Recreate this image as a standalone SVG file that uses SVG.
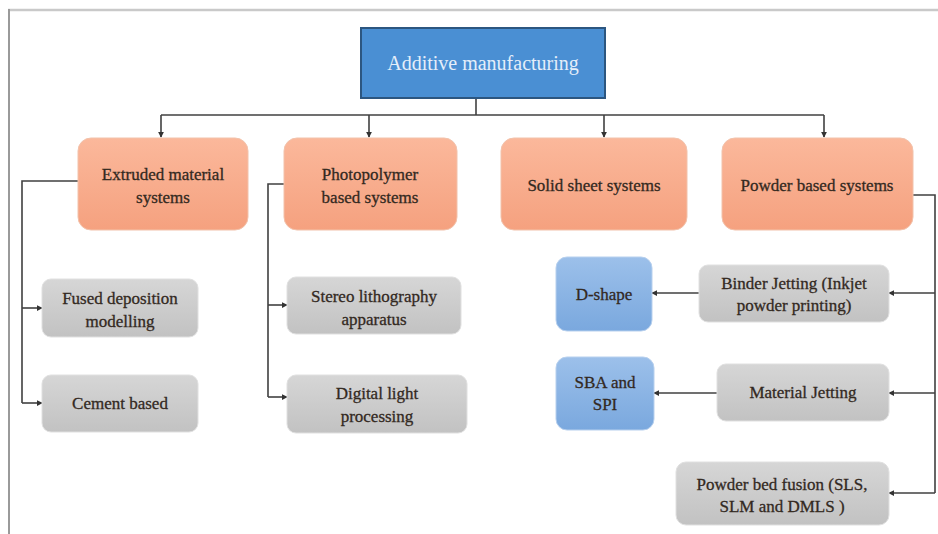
<svg xmlns="http://www.w3.org/2000/svg" width="938" height="534" viewBox="0 0 938 534">
  <defs>
    <linearGradient id="gOrange" x1="0" y1="0" x2="0" y2="1">
      <stop offset="0" stop-color="#fbb89b"/>
      <stop offset="1" stop-color="#f5a17f"/>
    </linearGradient>
    <linearGradient id="gGray" x1="0" y1="0" x2="0" y2="1">
      <stop offset="0" stop-color="#d6d6d6"/>
      <stop offset="1" stop-color="#c2c2c2"/>
    </linearGradient>
    <linearGradient id="gBlue" x1="0" y1="0" x2="0" y2="1">
      <stop offset="0" stop-color="#9cc0ea"/>
      <stop offset="1" stop-color="#7aa8de"/>
    </linearGradient>
    <marker id="arrow" viewBox="0 0 8 8" refX="7" refY="4" markerWidth="6" markerHeight="6" markerUnits="userSpaceOnUse" orient="auto">
      <path d="M0,0 L8,4 L0,8 z" fill="#333"/>
    </marker>
    <style>
      .frameTop { stroke: #c9c9c9; stroke-width: 2.5; fill: none; }
      .frameLeft { stroke: #9a9a9a; stroke-width: 2; fill: none; }
      .orange { fill: url(#gOrange); stroke: #f2c2ab; stroke-width: 1; }
      .gray { fill: url(#gGray); stroke: #e0e0e0; stroke-width: 1; }
      .blue { fill: url(#gBlue); stroke: #b7d0ee; stroke-width: 1; }
      .root { fill: #4a8fd3; stroke: #2c5680; stroke-width: 2; }
      .label { font-family: "Liberation Serif", "Times New Roman", serif; font-size: 17px; fill: #33291f; stroke: #33291f; stroke-width: 0.3; text-anchor: middle; }
      .rootLabel { font-family: "Liberation Serif", "Times New Roman", serif; font-size: 20px; fill: #e4eefa; text-anchor: middle; }
      .wire { stroke: #404040; stroke-width: 1.6; fill: none; }
      .arrowed { marker-end: url(#arrow); }
    </style>
  </defs>

  <rect width="938" height="534" fill="#ffffff"/>

  <!-- page frame -->
  <line class="frameTop" x1="8" y1="10" x2="938" y2="10"/>
  <line class="frameLeft" x1="9" y1="9" x2="9" y2="534"/>

  <!-- connectors -->
  <g id="connectors">
    <polyline class="wire" points="476,98 476,115"/>
    <polyline class="wire" points="161,115 824,115"/>
    <line class="wire arrowed" x1="161" y1="115" x2="161" y2="137"/>
    <line class="wire arrowed" x1="369" y1="115" x2="369" y2="137"/>
    <line class="wire arrowed" x1="604" y1="115" x2="604" y2="137"/>
    <line class="wire arrowed" x1="824" y1="115" x2="824" y2="137"/>

    <polyline class="wire" points="78,181 22,181 22,403"/>
    <line class="wire arrowed" x1="22" y1="308" x2="42" y2="308"/>
    <line class="wire arrowed" x1="22" y1="403" x2="42" y2="403"/>

    <polyline class="wire" points="284,184 268,184 268,397"/>
    <line class="wire arrowed" x1="268" y1="305" x2="287" y2="305"/>
    <line class="wire arrowed" x1="268" y1="397" x2="287" y2="397"/>

    <polyline class="wire" points="913,195 935,195 935,493"/>
    <line class="wire arrowed" x1="935" y1="293" x2="889" y2="293"/>
    <line class="wire arrowed" x1="935" y1="393" x2="889" y2="393"/>
    <line class="wire arrowed" x1="935" y1="493" x2="889" y2="493"/>

    <line class="wire arrowed" x1="699" y1="293" x2="652" y2="293"/>
    <line class="wire arrowed" x1="717" y1="393" x2="654" y2="393"/>
  </g>

  <!-- root -->
  <g id="additive-manufacturing">
    <rect class="root" x="361" y="28" width="244" height="70"/>
    <text class="rootLabel" x="483" y="70">Additive manufacturing</text>
  </g>

  <!-- system categories -->
  <g id="extruded-material-systems">
    <rect class="orange" x="78" y="138" width="170" height="92" rx="13"/>
    <text class="label" x="163" y="180">Extruded material</text>
    <text class="label" x="163" y="203">systems</text>
  </g>
  <g id="photopolymer-based-systems">
    <rect class="orange" x="284" y="138" width="173" height="92" rx="13"/>
    <text class="label" x="370" y="180">Photopolymer</text>
    <text class="label" x="370" y="203">based systems</text>
  </g>
  <g id="solid-sheet-systems">
    <rect class="orange" x="501" y="138" width="186" height="92" rx="13"/>
    <text class="label" x="594" y="191">Solid sheet systems</text>
  </g>
  <g id="powder-based-systems">
    <rect class="orange" x="722" y="138" width="191" height="92" rx="13"/>
    <text class="label" x="817" y="191">Powder based systems</text>
  </g>

  <!-- processes -->
  <g id="fused-deposition-modelling">
    <rect class="gray" x="42" y="279" width="156" height="58" rx="9"/>
    <text class="label" x="120" y="304">Fused deposition</text>
    <text class="label" x="120" y="327">modelling</text>
  </g>
  <g id="cement-based">
    <rect class="gray" x="42" y="375" width="156" height="57" rx="9"/>
    <text class="label" x="120" y="409">Cement based</text>
  </g>
  <g id="stereo-lithography-apparatus">
    <rect class="gray" x="287" y="277" width="174" height="57" rx="9"/>
    <text class="label" x="374" y="302">Stereo lithography</text>
    <text class="label" x="374" y="325">apparatus</text>
  </g>
  <g id="digital-light-processing">
    <rect class="gray" x="287" y="375" width="180" height="58" rx="9"/>
    <text class="label" x="377" y="399">Digital light</text>
    <text class="label" x="377" y="422">processing</text>
  </g>
  <g id="binder-jetting">
    <rect class="gray" x="699" y="265" width="190" height="57" rx="9"/>
    <text class="label" x="794" y="289">Binder Jetting (Inkjet</text>
    <text class="label" x="794" y="311">powder printing)</text>
  </g>
  <g id="material-jetting">
    <rect class="gray" x="717" y="364" width="172" height="57" rx="9"/>
    <text class="label" x="803" y="398">Material Jetting</text>
  </g>
  <g id="powder-bed-fusion">
    <rect class="gray" x="676" y="462" width="213" height="63" rx="10"/>
    <text class="label" x="782" y="490">Powder bed fusion (SLS,</text>
    <text class="label" x="782" y="512">SLM and DMLS )</text>
  </g>

  <!-- examples -->
  <g id="d-shape">
    <rect class="blue" x="556" y="257" width="96" height="74" rx="11"/>
    <text class="label" x="604" y="300">D-shape</text>
  </g>
  <g id="sba-and-spi">
    <rect class="blue" x="556" y="357" width="98" height="73" rx="11"/>
    <text class="label" x="605" y="388">SBA and</text>
    <text class="label" x="605" y="410">SPI</text>
  </g>
</svg>
